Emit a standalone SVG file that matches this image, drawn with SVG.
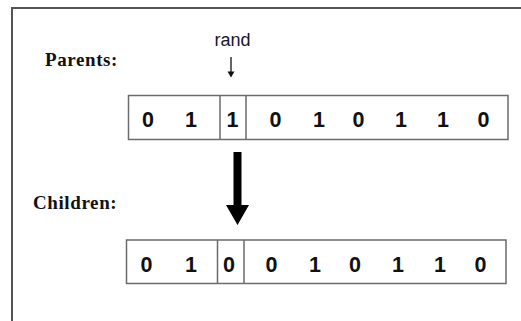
<svg xmlns="http://www.w3.org/2000/svg" width="521" height="321" viewBox="0 0 521 321">
  <style>
    .frame { fill: none; stroke: #555; stroke-width: 2; }
    .cell { fill: #fff; stroke: #6b6b6b; stroke-width: 1.5; }
    .div { stroke: #6b6b6b; stroke-width: 1.5; }
    .bit { font-family: "Liberation Sans", Arial, sans-serif; font-weight: bold; font-size: 21.5px; fill: #111; text-anchor: middle; }
    .label { font-family: "Liberation Serif", "Times New Roman", serif; font-weight: bold; font-size: 19px; letter-spacing: 0.6px; fill: #111; }
    .rand { font-family: "Liberation Sans", Arial, sans-serif; font-size: 18px; fill: #161630; text-anchor: middle; }
  </style>

  <rect width="521" height="321" fill="#fff"/>
  <!-- open frame: top and left edges only -->
  <path class="frame" d="M12,321 L12,8 L521,8"/>

  <g id="parents-label">
    <text class="label" x="45" y="66">Parents:</text>
  </g>

  <g id="children-label">
    <text class="label" x="33" y="209">Children:</text>
  </g>

  <g id="rand-label">
    <text class="rand" x="232.5" y="46">rand</text>
  </g>

  <g id="parents">
    <rect class="cell" x="128.5" y="95.5" width="379.5" height="44"/>
    <line class="div" x1="220" y1="95.5" x2="220" y2="139.5"/>
    <line class="div" x1="246" y1="95.5" x2="246" y2="139.5"/>
    <text class="bit" y="126.5">
      <tspan x="148">0</tspan><tspan x="191">1</tspan><tspan x="232.5">1</tspan><tspan x="275.5">0</tspan><tspan x="319">1</tspan><tspan x="358.5">0</tspan><tspan x="401">1</tspan><tspan x="443">1</tspan><tspan x="483.5">0</tspan>
    </text>
  </g>

  <g id="children">
    <rect class="cell" x="126.5" y="240" width="379.5" height="43.5"/>
    <line class="div" x1="217.5" y1="240" x2="217.5" y2="283.5"/>
    <line class="div" x1="244" y1="240" x2="244" y2="283.5"/>
    <text class="bit" y="271.5">
      <tspan x="146.5">0</tspan><tspan x="191">1</tspan><tspan x="229">0</tspan><tspan x="271.5">0</tspan><tspan x="315">1</tspan><tspan x="355">0</tspan><tspan x="398">1</tspan><tspan x="440">1</tspan><tspan x="480.5">0</tspan>
    </text>
  </g>

  <g id="connectors">
    <!-- crossover point pointer -->
    <line x1="231" y1="57" x2="231" y2="72" stroke="#111" stroke-width="1.3"/>
    <path d="M227.5,71.5 L234.5,71.5 L231,77.5 Z" fill="#111"/>
    <!-- parents to children -->
    <path d="M233.5,152 L241.5,152 L241.5,205 L249,205 L237.5,225 L226,205 L233.5,205 Z" fill="#000"/>
  </g>
</svg>
